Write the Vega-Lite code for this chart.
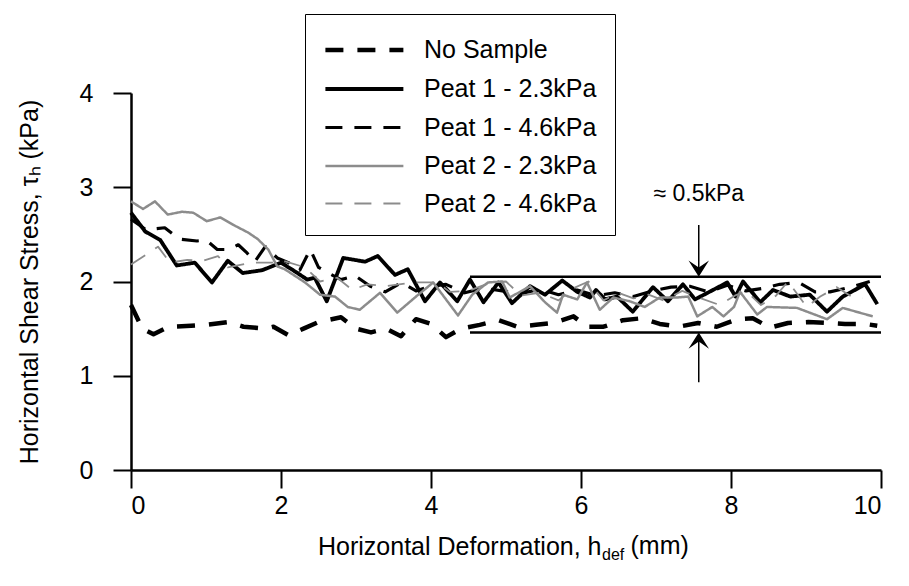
{
  "$schema": "https://vega.github.io/schema/vega-lite/v6.json",
  "width": 750,
  "height": 377,
  "autosize": {"type": "none"},
  "padding": {"left": 131, "top": 93, "right": 28, "bottom": 116},
  "config": {
    "font": "Liberation Sans",
    "view": {"stroke": null},
    "axis": {
      "grid": false,
      "domainColor": "black",
      "domainWidth": 2.5,
      "tickColor": "black",
      "tickWidth": 2,
      "tickSize": 18,
      "labelColor": "black",
      "labelFont": "Liberation Sans",
      "labelFontSize": 25,
      "titleColor": "black",
      "titleFont": "Liberation Sans",
      "titleFontSize": 25,
      "titleFontWeight": "normal"
    }
  },
  "datasets": {
    "curves": [
      {"s": "No Sample", "x": 0.0, "y": 1.75},
      {"s": "No Sample", "x": 0.15, "y": 1.5},
      {"s": "No Sample", "x": 0.3, "y": 1.44},
      {"s": "No Sample", "x": 0.5, "y": 1.52},
      {"s": "No Sample", "x": 0.8, "y": 1.53},
      {"s": "No Sample", "x": 1.0, "y": 1.54},
      {"s": "No Sample", "x": 1.3, "y": 1.57},
      {"s": "No Sample", "x": 1.5, "y": 1.52},
      {"s": "No Sample", "x": 1.8, "y": 1.5},
      {"s": "No Sample", "x": 1.9, "y": 1.52},
      {"s": "No Sample", "x": 2.1, "y": 1.43},
      {"s": "No Sample", "x": 2.3, "y": 1.5},
      {"s": "No Sample", "x": 2.5, "y": 1.57},
      {"s": "No Sample", "x": 2.8, "y": 1.62},
      {"s": "No Sample", "x": 3.0, "y": 1.5},
      {"s": "No Sample", "x": 3.2, "y": 1.46},
      {"s": "No Sample", "x": 3.4, "y": 1.5},
      {"s": "No Sample", "x": 3.6, "y": 1.42},
      {"s": "No Sample", "x": 3.8, "y": 1.6},
      {"s": "No Sample", "x": 4.0, "y": 1.55},
      {"s": "No Sample", "x": 4.2, "y": 1.41},
      {"s": "No Sample", "x": 4.4, "y": 1.5},
      {"s": "No Sample", "x": 4.65, "y": 1.54},
      {"s": "No Sample", "x": 4.9, "y": 1.59},
      {"s": "No Sample", "x": 5.15, "y": 1.52},
      {"s": "No Sample", "x": 5.4, "y": 1.54},
      {"s": "No Sample", "x": 5.63, "y": 1.56},
      {"s": "No Sample", "x": 5.9, "y": 1.63},
      {"s": "No Sample", "x": 6.08, "y": 1.52},
      {"s": "No Sample", "x": 6.3, "y": 1.52},
      {"s": "No Sample", "x": 6.56, "y": 1.59},
      {"s": "No Sample", "x": 6.81, "y": 1.61},
      {"s": "No Sample", "x": 7.05, "y": 1.55},
      {"s": "No Sample", "x": 7.3, "y": 1.52},
      {"s": "No Sample", "x": 7.56, "y": 1.56},
      {"s": "No Sample", "x": 7.81, "y": 1.52},
      {"s": "No Sample", "x": 8.08, "y": 1.6},
      {"s": "No Sample", "x": 8.29, "y": 1.61},
      {"s": "No Sample", "x": 8.52, "y": 1.51},
      {"s": "No Sample", "x": 8.76, "y": 1.56},
      {"s": "No Sample", "x": 9.03, "y": 1.57},
      {"s": "No Sample", "x": 9.28, "y": 1.56},
      {"s": "No Sample", "x": 9.52, "y": 1.55},
      {"s": "No Sample", "x": 9.79, "y": 1.55},
      {"s": "No Sample", "x": 9.95, "y": 1.53},

      {"s": "Peat 1 - 2.3kPa", "x": 0.0, "y": 2.73},
      {"s": "Peat 1 - 2.3kPa", "x": 0.19, "y": 2.53},
      {"s": "Peat 1 - 2.3kPa", "x": 0.39, "y": 2.44},
      {"s": "Peat 1 - 2.3kPa", "x": 0.61, "y": 2.17},
      {"s": "Peat 1 - 2.3kPa", "x": 0.85, "y": 2.2},
      {"s": "Peat 1 - 2.3kPa", "x": 1.08, "y": 1.99},
      {"s": "Peat 1 - 2.3kPa", "x": 1.29, "y": 2.22},
      {"s": "Peat 1 - 2.3kPa", "x": 1.49, "y": 2.09},
      {"s": "Peat 1 - 2.3kPa", "x": 1.75, "y": 2.12},
      {"s": "Peat 1 - 2.3kPa", "x": 2.0, "y": 2.2},
      {"s": "Peat 1 - 2.3kPa", "x": 2.2, "y": 2.1},
      {"s": "Peat 1 - 2.3kPa", "x": 2.35, "y": 2.02},
      {"s": "Peat 1 - 2.3kPa", "x": 2.45, "y": 2.04},
      {"s": "Peat 1 - 2.3kPa", "x": 2.61, "y": 1.79},
      {"s": "Peat 1 - 2.3kPa", "x": 2.83, "y": 2.25},
      {"s": "Peat 1 - 2.3kPa", "x": 3.12, "y": 2.21},
      {"s": "Peat 1 - 2.3kPa", "x": 3.29, "y": 2.27},
      {"s": "Peat 1 - 2.3kPa", "x": 3.52, "y": 2.07},
      {"s": "Peat 1 - 2.3kPa", "x": 3.69, "y": 2.13},
      {"s": "Peat 1 - 2.3kPa", "x": 3.92, "y": 1.79},
      {"s": "Peat 1 - 2.3kPa", "x": 4.12, "y": 1.99},
      {"s": "Peat 1 - 2.3kPa", "x": 4.35, "y": 1.79},
      {"s": "Peat 1 - 2.3kPa", "x": 4.52, "y": 2.02},
      {"s": "Peat 1 - 2.3kPa", "x": 4.7, "y": 1.78},
      {"s": "Peat 1 - 2.3kPa", "x": 4.9, "y": 1.99},
      {"s": "Peat 1 - 2.3kPa", "x": 5.08, "y": 1.77},
      {"s": "Peat 1 - 2.3kPa", "x": 5.32, "y": 1.95},
      {"s": "Peat 1 - 2.3kPa", "x": 5.52, "y": 1.86},
      {"s": "Peat 1 - 2.3kPa", "x": 5.75, "y": 2.01},
      {"s": "Peat 1 - 2.3kPa", "x": 5.95, "y": 1.89},
      {"s": "Peat 1 - 2.3kPa", "x": 6.12, "y": 1.83},
      {"s": "Peat 1 - 2.3kPa", "x": 6.2, "y": 1.91},
      {"s": "Peat 1 - 2.3kPa", "x": 6.32, "y": 1.81},
      {"s": "Peat 1 - 2.3kPa", "x": 6.48, "y": 1.84},
      {"s": "Peat 1 - 2.3kPa", "x": 6.69, "y": 1.68},
      {"s": "Peat 1 - 2.3kPa", "x": 6.96, "y": 1.94},
      {"s": "Peat 1 - 2.3kPa", "x": 7.16, "y": 1.79},
      {"s": "Peat 1 - 2.3kPa", "x": 7.36, "y": 1.97},
      {"s": "Peat 1 - 2.3kPa", "x": 7.52, "y": 1.81},
      {"s": "Peat 1 - 2.3kPa", "x": 7.76, "y": 1.91},
      {"s": "Peat 1 - 2.3kPa", "x": 7.95, "y": 1.99},
      {"s": "Peat 1 - 2.3kPa", "x": 8.06, "y": 1.84},
      {"s": "Peat 1 - 2.3kPa", "x": 8.16, "y": 2.0},
      {"s": "Peat 1 - 2.3kPa", "x": 8.39, "y": 1.78},
      {"s": "Peat 1 - 2.3kPa", "x": 8.56, "y": 1.91},
      {"s": "Peat 1 - 2.3kPa", "x": 8.79, "y": 1.84},
      {"s": "Peat 1 - 2.3kPa", "x": 9.05, "y": 1.86},
      {"s": "Peat 1 - 2.3kPa", "x": 9.28, "y": 1.68},
      {"s": "Peat 1 - 2.3kPa", "x": 9.49, "y": 1.84},
      {"s": "Peat 1 - 2.3kPa", "x": 9.79, "y": 1.97},
      {"s": "Peat 1 - 2.3kPa", "x": 9.95, "y": 1.76},

      {"s": "Peat 1 - 4.6kPa", "x": 0.0, "y": 2.66},
      {"s": "Peat 1 - 4.6kPa", "x": 0.2, "y": 2.55},
      {"s": "Peat 1 - 4.6kPa", "x": 0.45, "y": 2.57},
      {"s": "Peat 1 - 4.6kPa", "x": 0.65, "y": 2.45},
      {"s": "Peat 1 - 4.6kPa", "x": 0.88, "y": 2.43},
      {"s": "Peat 1 - 4.6kPa", "x": 1.0, "y": 2.44},
      {"s": "Peat 1 - 4.6kPa", "x": 1.15, "y": 2.34},
      {"s": "Peat 1 - 4.6kPa", "x": 1.3, "y": 2.34},
      {"s": "Peat 1 - 4.6kPa", "x": 1.43, "y": 2.39},
      {"s": "Peat 1 - 4.6kPa", "x": 1.55, "y": 2.3},
      {"s": "Peat 1 - 4.6kPa", "x": 1.65, "y": 2.21},
      {"s": "Peat 1 - 4.6kPa", "x": 1.79, "y": 2.37},
      {"s": "Peat 1 - 4.6kPa", "x": 1.95, "y": 2.25},
      {"s": "Peat 1 - 4.6kPa", "x": 2.1, "y": 2.2},
      {"s": "Peat 1 - 4.6kPa", "x": 2.25, "y": 2.12},
      {"s": "Peat 1 - 4.6kPa", "x": 2.39, "y": 2.34},
      {"s": "Peat 1 - 4.6kPa", "x": 2.5, "y": 2.15},
      {"s": "Peat 1 - 4.6kPa", "x": 2.61, "y": 2.1},
      {"s": "Peat 1 - 4.6kPa", "x": 2.8, "y": 2.02},
      {"s": "Peat 1 - 4.6kPa", "x": 2.99, "y": 2.06},
      {"s": "Peat 1 - 4.6kPa", "x": 3.19, "y": 1.95},
      {"s": "Peat 1 - 4.6kPa", "x": 3.39, "y": 1.89},
      {"s": "Peat 1 - 4.6kPa", "x": 3.61, "y": 1.99},
      {"s": "Peat 1 - 4.6kPa", "x": 3.8, "y": 1.9},
      {"s": "Peat 1 - 4.6kPa", "x": 4.0, "y": 1.95},
      {"s": "Peat 1 - 4.6kPa", "x": 4.2, "y": 1.97},
      {"s": "Peat 1 - 4.6kPa", "x": 4.45, "y": 1.88},
      {"s": "Peat 1 - 4.6kPa", "x": 4.7, "y": 1.93},
      {"s": "Peat 1 - 4.6kPa", "x": 4.95, "y": 1.9},
      {"s": "Peat 1 - 4.6kPa", "x": 5.2, "y": 1.87},
      {"s": "Peat 1 - 4.6kPa", "x": 5.45, "y": 1.92},
      {"s": "Peat 1 - 4.6kPa", "x": 5.7, "y": 1.86},
      {"s": "Peat 1 - 4.6kPa", "x": 5.95, "y": 1.91},
      {"s": "Peat 1 - 4.6kPa", "x": 6.2, "y": 1.85},
      {"s": "Peat 1 - 4.6kPa", "x": 6.45, "y": 1.88},
      {"s": "Peat 1 - 4.6kPa", "x": 6.7, "y": 1.84},
      {"s": "Peat 1 - 4.6kPa", "x": 6.95, "y": 1.9},
      {"s": "Peat 1 - 4.6kPa", "x": 7.2, "y": 1.94},
      {"s": "Peat 1 - 4.6kPa", "x": 7.45, "y": 1.95},
      {"s": "Peat 1 - 4.6kPa", "x": 7.7, "y": 1.89},
      {"s": "Peat 1 - 4.6kPa", "x": 7.95, "y": 1.96},
      {"s": "Peat 1 - 4.6kPa", "x": 8.2, "y": 1.9},
      {"s": "Peat 1 - 4.6kPa", "x": 8.45, "y": 1.93},
      {"s": "Peat 1 - 4.6kPa", "x": 8.65, "y": 1.97},
      {"s": "Peat 1 - 4.6kPa", "x": 8.9, "y": 1.99},
      {"s": "Peat 1 - 4.6kPa", "x": 9.12, "y": 1.89},
      {"s": "Peat 1 - 4.6kPa", "x": 9.32, "y": 1.89},
      {"s": "Peat 1 - 4.6kPa", "x": 9.6, "y": 1.94},
      {"s": "Peat 1 - 4.6kPa", "x": 9.85, "y": 2.0},

      {"s": "Peat 2 - 2.3kPa", "x": 0.0, "y": 2.85},
      {"s": "Peat 2 - 2.3kPa", "x": 0.16, "y": 2.77},
      {"s": "Peat 2 - 2.3kPa", "x": 0.32, "y": 2.85},
      {"s": "Peat 2 - 2.3kPa", "x": 0.49, "y": 2.71},
      {"s": "Peat 2 - 2.3kPa", "x": 0.68, "y": 2.74},
      {"s": "Peat 2 - 2.3kPa", "x": 0.83, "y": 2.73},
      {"s": "Peat 2 - 2.3kPa", "x": 1.01, "y": 2.64},
      {"s": "Peat 2 - 2.3kPa", "x": 1.19, "y": 2.68},
      {"s": "Peat 2 - 2.3kPa", "x": 1.39, "y": 2.59},
      {"s": "Peat 2 - 2.3kPa", "x": 1.56, "y": 2.52},
      {"s": "Peat 2 - 2.3kPa", "x": 1.69, "y": 2.45},
      {"s": "Peat 2 - 2.3kPa", "x": 1.83, "y": 2.34},
      {"s": "Peat 2 - 2.3kPa", "x": 1.95, "y": 2.16},
      {"s": "Peat 2 - 2.3kPa", "x": 2.05, "y": 2.13},
      {"s": "Peat 2 - 2.3kPa", "x": 2.32, "y": 1.99},
      {"s": "Peat 2 - 2.3kPa", "x": 2.52, "y": 1.86},
      {"s": "Peat 2 - 2.3kPa", "x": 2.72, "y": 1.84},
      {"s": "Peat 2 - 2.3kPa", "x": 2.89, "y": 1.73},
      {"s": "Peat 2 - 2.3kPa", "x": 3.05, "y": 1.7},
      {"s": "Peat 2 - 2.3kPa", "x": 3.32, "y": 1.88},
      {"s": "Peat 2 - 2.3kPa", "x": 3.55, "y": 1.67},
      {"s": "Peat 2 - 2.3kPa", "x": 3.83, "y": 1.86},
      {"s": "Peat 2 - 2.3kPa", "x": 4.03, "y": 1.99},
      {"s": "Peat 2 - 2.3kPa", "x": 4.36, "y": 1.64},
      {"s": "Peat 2 - 2.3kPa", "x": 4.55, "y": 1.86},
      {"s": "Peat 2 - 2.3kPa", "x": 4.76, "y": 1.99},
      {"s": "Peat 2 - 2.3kPa", "x": 4.95, "y": 2.0},
      {"s": "Peat 2 - 2.3kPa", "x": 5.05, "y": 1.83},
      {"s": "Peat 2 - 2.3kPa", "x": 5.32, "y": 1.95},
      {"s": "Peat 2 - 2.3kPa", "x": 5.52, "y": 1.78},
      {"s": "Peat 2 - 2.3kPa", "x": 5.68, "y": 1.67},
      {"s": "Peat 2 - 2.3kPa", "x": 5.76, "y": 1.86},
      {"s": "Peat 2 - 2.3kPa", "x": 5.95, "y": 1.81},
      {"s": "Peat 2 - 2.3kPa", "x": 6.08, "y": 1.99},
      {"s": "Peat 2 - 2.3kPa", "x": 6.25, "y": 1.7},
      {"s": "Peat 2 - 2.3kPa", "x": 6.43, "y": 1.83},
      {"s": "Peat 2 - 2.3kPa", "x": 6.65, "y": 1.79},
      {"s": "Peat 2 - 2.3kPa", "x": 6.85, "y": 1.73},
      {"s": "Peat 2 - 2.3kPa", "x": 7.05, "y": 1.83},
      {"s": "Peat 2 - 2.3kPa", "x": 7.28, "y": 1.83},
      {"s": "Peat 2 - 2.3kPa", "x": 7.43, "y": 1.84},
      {"s": "Peat 2 - 2.3kPa", "x": 7.55, "y": 1.63},
      {"s": "Peat 2 - 2.3kPa", "x": 7.75, "y": 1.73},
      {"s": "Peat 2 - 2.3kPa", "x": 7.9, "y": 1.63},
      {"s": "Peat 2 - 2.3kPa", "x": 8.04, "y": 1.73},
      {"s": "Peat 2 - 2.3kPa", "x": 8.12, "y": 1.89},
      {"s": "Peat 2 - 2.3kPa", "x": 8.35, "y": 1.65},
      {"s": "Peat 2 - 2.3kPa", "x": 8.48, "y": 1.73},
      {"s": "Peat 2 - 2.3kPa", "x": 8.88, "y": 1.72},
      {"s": "Peat 2 - 2.3kPa", "x": 9.28, "y": 1.6},
      {"s": "Peat 2 - 2.3kPa", "x": 9.49, "y": 1.72},
      {"s": "Peat 2 - 2.3kPa", "x": 9.89, "y": 1.63},

      {"s": "Peat 2 - 4.6kPa", "x": 0.0, "y": 2.18},
      {"s": "Peat 2 - 4.6kPa", "x": 0.21, "y": 2.29},
      {"s": "Peat 2 - 4.6kPa", "x": 0.36, "y": 2.37},
      {"s": "Peat 2 - 4.6kPa", "x": 0.52, "y": 2.2},
      {"s": "Peat 2 - 4.6kPa", "x": 0.75, "y": 2.23},
      {"s": "Peat 2 - 4.6kPa", "x": 0.96, "y": 2.22},
      {"s": "Peat 2 - 4.6kPa", "x": 1.16, "y": 2.27},
      {"s": "Peat 2 - 4.6kPa", "x": 1.29, "y": 2.15},
      {"s": "Peat 2 - 4.6kPa", "x": 1.61, "y": 2.2},
      {"s": "Peat 2 - 4.6kPa", "x": 1.88, "y": 2.2},
      {"s": "Peat 2 - 4.6kPa", "x": 1.99, "y": 2.23},
      {"s": "Peat 2 - 4.6kPa", "x": 2.32, "y": 2.15},
      {"s": "Peat 2 - 4.6kPa", "x": 2.52, "y": 2.0},
      {"s": "Peat 2 - 4.6kPa", "x": 2.75, "y": 2.04},
      {"s": "Peat 2 - 4.6kPa", "x": 2.95, "y": 1.91},
      {"s": "Peat 2 - 4.6kPa", "x": 3.15, "y": 1.97},
      {"s": "Peat 2 - 4.6kPa", "x": 3.4, "y": 1.95},
      {"s": "Peat 2 - 4.6kPa", "x": 3.75, "y": 1.99},
      {"s": "Peat 2 - 4.6kPa", "x": 4.08, "y": 1.99},
      {"s": "Peat 2 - 4.6kPa", "x": 4.25, "y": 1.89},
      {"s": "Peat 2 - 4.6kPa", "x": 4.5, "y": 1.9},
      {"s": "Peat 2 - 4.6kPa", "x": 4.8, "y": 1.99},
      {"s": "Peat 2 - 4.6kPa", "x": 5.0, "y": 2.0},
      {"s": "Peat 2 - 4.6kPa", "x": 5.2, "y": 1.85},
      {"s": "Peat 2 - 4.6kPa", "x": 5.45, "y": 1.88},
      {"s": "Peat 2 - 4.6kPa", "x": 5.7, "y": 1.8},
      {"s": "Peat 2 - 4.6kPa", "x": 5.9, "y": 1.93},
      {"s": "Peat 2 - 4.6kPa", "x": 6.1, "y": 2.0},
      {"s": "Peat 2 - 4.6kPa", "x": 6.3, "y": 1.8},
      {"s": "Peat 2 - 4.6kPa", "x": 6.5, "y": 1.88},
      {"s": "Peat 2 - 4.6kPa", "x": 6.7, "y": 1.82},
      {"s": "Peat 2 - 4.6kPa", "x": 6.9, "y": 1.86},
      {"s": "Peat 2 - 4.6kPa", "x": 7.1, "y": 1.8},
      {"s": "Peat 2 - 4.6kPa", "x": 7.35, "y": 1.9},
      {"s": "Peat 2 - 4.6kPa", "x": 7.6, "y": 1.82},
      {"s": "Peat 2 - 4.6kPa", "x": 7.85, "y": 1.75},
      {"s": "Peat 2 - 4.6kPa", "x": 8.05, "y": 1.85},
      {"s": "Peat 2 - 4.6kPa", "x": 8.2, "y": 1.9},
      {"s": "Peat 2 - 4.6kPa", "x": 8.4, "y": 1.75},
      {"s": "Peat 2 - 4.6kPa", "x": 8.6, "y": 1.85},
      {"s": "Peat 2 - 4.6kPa", "x": 8.76, "y": 2.0},
      {"s": "Peat 2 - 4.6kPa", "x": 9.01, "y": 1.73},
      {"s": "Peat 2 - 4.6kPa", "x": 9.19, "y": 1.84},
      {"s": "Peat 2 - 4.6kPa", "x": 9.41, "y": 1.94},
      {"s": "Peat 2 - 4.6kPa", "x": 9.63, "y": 1.83},
      {"s": "Peat 2 - 4.6kPa", "x": 9.75, "y": 1.82}
    ],
    "bands": [
      {"x": 4.52, "x2": 10, "y": 2.05},
      {"x": 4.52, "x2": 10, "y": 1.46}
    ],
    "shafts": [
      {"x": 7.57, "y": 2.6, "y2": 2.07},
      {"x": 7.57, "y": 0.93, "y2": 1.44}
    ],
    "downHead": [{"x": 7.57, "y": 2.05}],
    "upHead": [{"x": 7.57, "y": 1.46}],
    "labels": [{"x": 7.57, "y": 2.93, "t": "≈ 0.5kPa"}],
    "subs": [{"x": 6.28, "y": -0.95, "t": "def"}],
    "unit": [{"x": 6.66, "y": -0.893, "t": "(mm)"}]
  },
  "layer": [
    {
      "data": {"name": "bands"},
      "mark": {"type": "rule", "color": "black", "strokeWidth": 2.5},
      "encoding": {
        "x": {"field": "x", "type": "quantitative", "scale": {"domain": [0, 10], "nice": false}},
        "x2": {"field": "x2"},
        "y": {"field": "y", "type": "quantitative"}
      }
    },
    {
      "data": {"name": "curves"},
      "mark": {"type": "line", "strokeJoin": "round"},
      "encoding": {
        "x": {
          "field": "x", "type": "quantitative",
          "scale": {"domain": [0, 10], "nice": false},
          "axis": {"values": [0, 2, 4, 6, 8, 10], "format": "d", "labelPadding": 5,
                   "title": "Horizontal Deformation, h",
                   "titleAlign": "right", "titleAnchor": "start", "titleX": 470, "titleY": 84,
                   "titleBaseline": "alphabetic"}
        },
        "y": {
          "field": "y", "type": "quantitative",
          "scale": {"domain": [0, 4], "nice": false},
          "axis": {"values": [0, 1, 2, 3, 4], "format": "d", "labelPadding": 20, "titlePadding": 37,
                   "title": "Horizontal Shear Stress, τₕ (kPa)"}
        },
        "color": {
          "field": "s", "type": "nominal",
          "scale": {
            "domain": ["No Sample", "Peat 1 - 2.3kPa", "Peat 1 - 4.6kPa", "Peat 2 - 2.3kPa", "Peat 2 - 4.6kPa"],
            "range": ["#000000", "#000000", "#000000", "#8c8c8c", "#8c8c8c"]
          },
          "legend": {
            "title": null, "orient": "none", "legendX": 174, "legendY": -79,
            "symbolType": "M-1,0L4,0", "symbolSize": 973,
            "labelFontSize": 25, "labelFont": "Liberation Sans", "labelColor": "black", "labelLimit": 400,
            "labelOffset": 65, "rowPadding": 8, "padding": 18,
            "strokeColor": "black", "fillColor": "white", "cornerRadius": 0
          }
        },
        "strokeDash": {
          "field": "s", "type": "nominal",
          "scale": {
            "domain": ["No Sample", "Peat 1 - 2.3kPa", "Peat 1 - 4.6kPa", "Peat 2 - 2.3kPa", "Peat 2 - 4.6kPa"],
            "range": [[18, 14], [1, 0], [17, 12], [1, 0], [17, 12]]
          },
          "legend": {"title": null}
        },
        "strokeWidth": {
          "field": "s", "type": "nominal",
          "scale": {
            "domain": ["No Sample", "Peat 1 - 2.3kPa", "Peat 1 - 4.6kPa", "Peat 2 - 2.3kPa", "Peat 2 - 4.6kPa"],
            "range": [4.5, 1.8, 1.8, 2, 2]
          },
          "legend": {"title": null}
        }
      }
    },
    {
      "data": {"name": "shafts"},
      "mark": {"type": "rule", "color": "black", "strokeWidth": 1.5},
      "encoding": {
        "x": {"field": "x", "type": "quantitative"},
        "y": {"field": "y", "type": "quantitative"},
        "y2": {"field": "y2"}
      }
    },
    {
      "data": {"name": "downHead"},
      "mark": {"type": "point", "shape": "M0,0L-1,-1.6L0,-0.9L1,-1.6Z", "filled": true, "color": "black", "size": 420, "opacity": 1},
      "encoding": {
        "x": {"field": "x", "type": "quantitative"},
        "y": {"field": "y", "type": "quantitative"}
      }
    },
    {
      "data": {"name": "upHead"},
      "mark": {"type": "point", "shape": "M0,0L-1,1.6L0,0.9L1,1.6Z", "filled": true, "color": "black", "size": 420, "opacity": 1},
      "encoding": {
        "x": {"field": "x", "type": "quantitative"},
        "y": {"field": "y", "type": "quantitative"}
      }
    },
    {
      "data": {"name": "labels"},
      "mark": {"type": "text", "fontSize": 23, "font": "Liberation Sans", "color": "black", "align": "center", "baseline": "middle"},
      "encoding": {
        "x": {"field": "x", "type": "quantitative"},
        "y": {"field": "y", "type": "quantitative"},
        "text": {"field": "t"}
      }
    },
    {
      "data": {"name": "subs"},
      "mark": {"type": "text", "fontSize": 16, "font": "Liberation Sans", "color": "black", "align": "left", "baseline": "alphabetic", "clip": false},
      "encoding": {
        "x": {"field": "x", "type": "quantitative"},
        "y": {"field": "y", "type": "quantitative"},
        "text": {"field": "t"}
      }
    },
    {
      "data": {"name": "unit"},
      "mark": {"type": "text", "fontSize": 25, "font": "Liberation Sans", "color": "black", "align": "left", "baseline": "alphabetic", "clip": false},
      "encoding": {
        "x": {"field": "x", "type": "quantitative"},
        "y": {"field": "y", "type": "quantitative"},
        "text": {"field": "t"}
      }
    }
  ]
}
